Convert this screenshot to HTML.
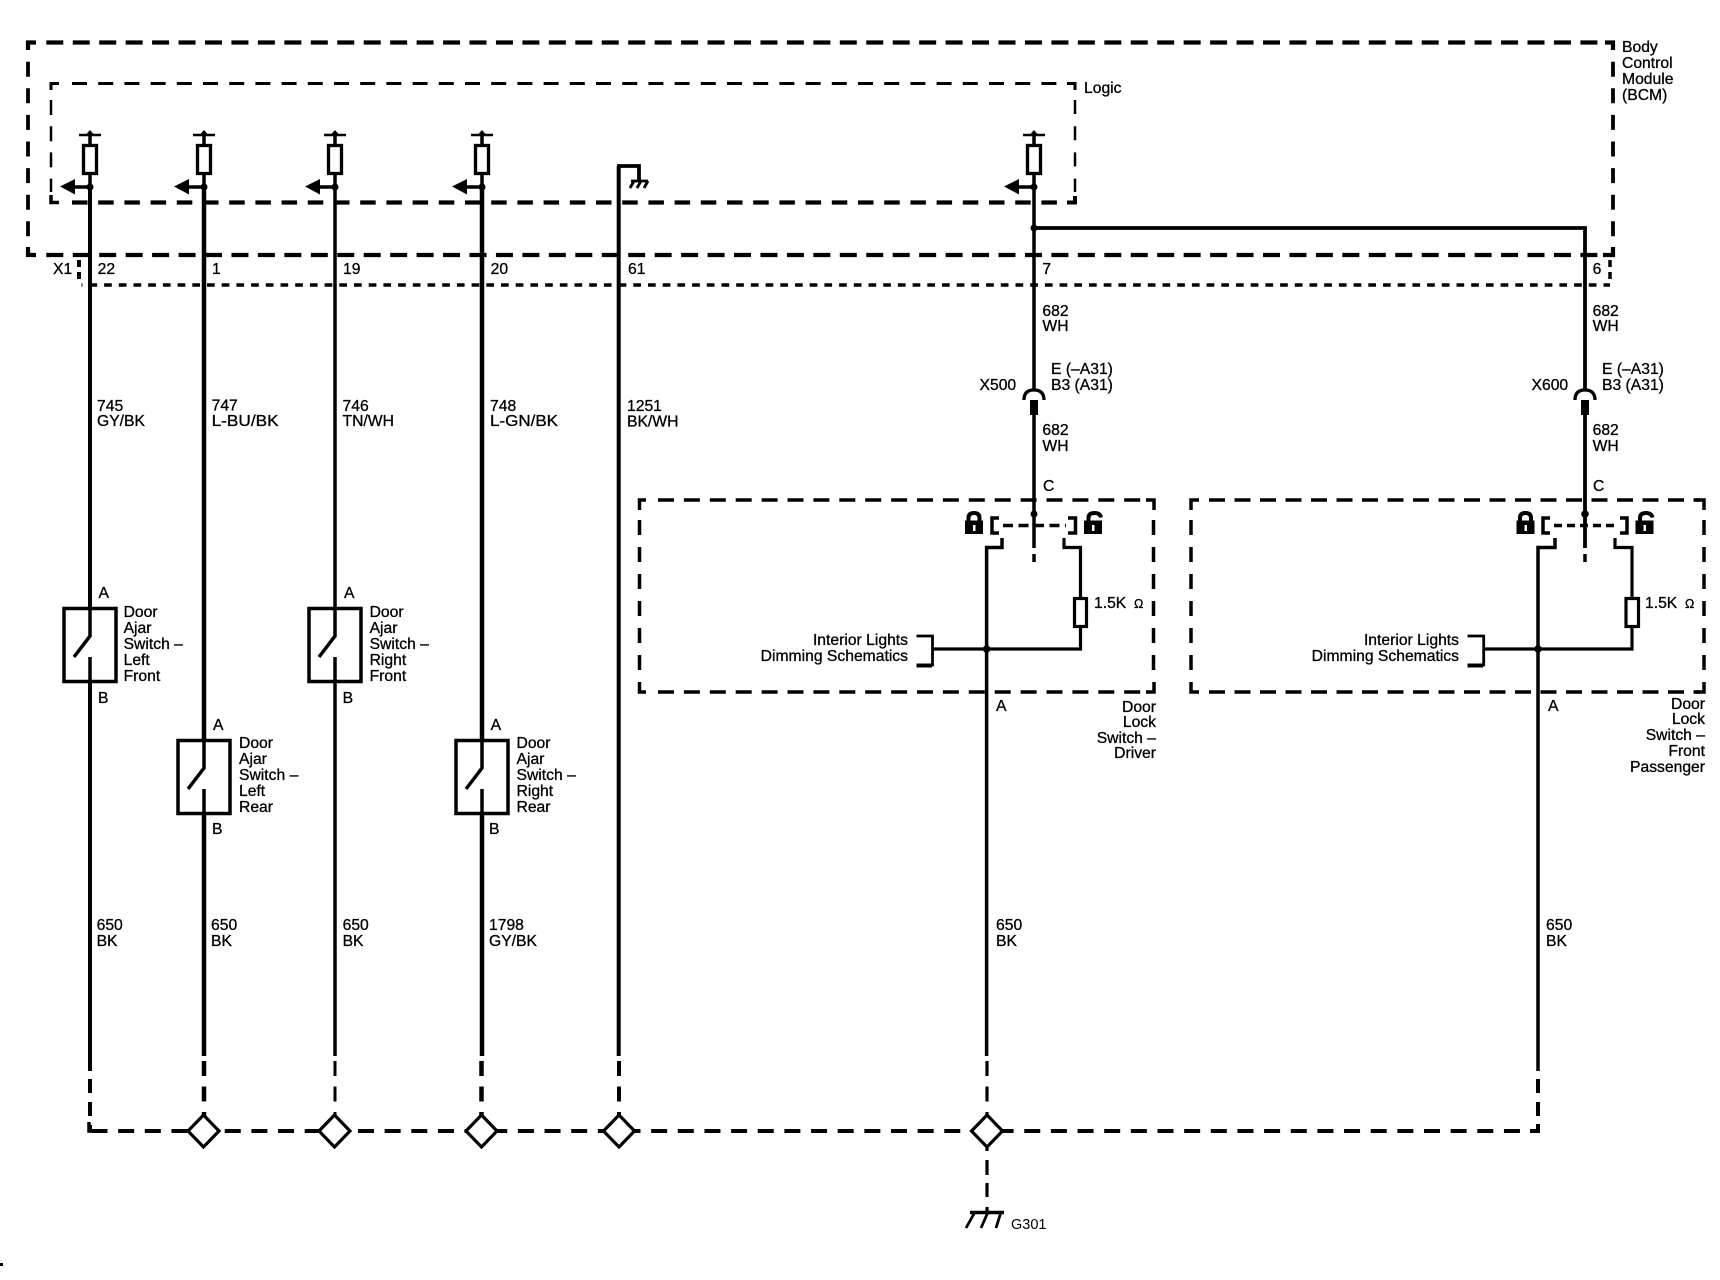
<!DOCTYPE html>
<html><head><meta charset="utf-8"><style>
html,body{margin:0;padding:0;background:#fff}
svg{display:block}
text{font-family:"Liberation Sans",sans-serif;font-size:15.7px;fill:#000;stroke:#000;stroke-width:.3}
.e{text-anchor:end}
.w{fill:none;stroke:#000}
</style></head><body>
<svg width="1720" height="1280" viewBox="0 0 1720 1280" xmlns="http://www.w3.org/2000/svg">
<defs>
<g id="fuse" class="w">
<path d="M-11 135H11" stroke-width="2.500" stroke="#000"/>
<path d="M0 130L3.500 134L0 138L-3.500 134Z" fill="#000" stroke="none"/>
<path d="M0 134V145M0 174V187" stroke-width="3.500" stroke="#000"/>
<rect x="-6.500" y="145.500" width="13" height="28" fill="#fff" stroke="#000" stroke-width="3.300"/>
<circle cx="0" cy="187" r="3.500" fill="#000" stroke="none"/>
<path d="M0 187H-16" stroke-width="3.500" stroke="#000"/>
<path d="M-30 186.500L-15 179V194.500Z" fill="#000" stroke="none"/>
</g>
<g id="sw" fill="none" stroke="#000">
<rect x="-26" y="-73.500" width="52" height="73" fill="#fff" stroke-width="3.500"/>
<path d="M0 -75V-46L-16 -25" stroke-width="3.500"/>
<path d="M0 -25V0" stroke-width="3.500"/>
</g>
<g id="conn" fill="none" stroke="#000">
<path d="M-10 400Q-10 390 0 390Q10 390 10 400" stroke-width="3.300"/>
<rect x="-4" y="400" width="8" height="15" fill="#000" stroke="none"/>
</g>
<g id="dia"><path d="M0 -16L15.500 0L0 16L-15.500 0Z" fill="#fff" stroke="#000" stroke-width="3.200"/></g>
<g id="lock">
<path d="M3.500 11V7Q3.500 2 9 2Q14.500 2 14.500 7V11" fill="none" stroke="#000" stroke-width="4"/>
<rect x="0" y="9.500" width="18" height="13.500" fill="#000"/>
<rect x="8" y="14" width="2.500" height="6" fill="#fff"/>
</g>
<g id="ulock">
<path d="M4.500 11V7Q4.500 2 10.500 2Q16 2 17 6.500" fill="none" stroke="#000" stroke-width="4"/>
<rect x="0" y="9.500" width="18" height="13.500" fill="#000"/>
<rect x="8" y="14" width="2.500" height="6" fill="#fff"/>
</g>
</defs>
<rect width="1720" height="1280" fill="#fff"/>
<rect x="0" y="1263" width="3" height="3" fill="#000"/>

<!-- BCM box -->
<g fill="none" stroke="#000">
<path d="M46.300 42.500H1607" stroke-width="4.200" stroke-dasharray="17 9.450"/>
<path d="M46.300 255H1600" stroke-width="4.200" stroke-dasharray="17 9.450"/>
<path d="M36 42.500H28V50" stroke-width="4.200"/>
<path d="M28 247V255H36" stroke-width="4.200"/>
<path d="M28 61.700V240" stroke-width="3.800" stroke-dasharray="15 11.600"/>
<path d="M1613 61.700V245" stroke-width="3.800" stroke-dasharray="15 11.600"/>
<path d="M1605 42.500H1613V50" stroke-width="4.200"/>
<path d="M1603 255H1613V247" stroke-width="4.200"/>
<!-- Logic box -->
<path d="M72 83.500H1066" stroke-width="3" stroke-dasharray="15 11.200"/>
<path d="M59 83.500H51V90" stroke-width="3"/>
<path d="M1067 83.500H1075V90" stroke-width="3"/>
<path d="M72 202.500H1060" stroke-width="4.200" stroke-dasharray="15.500 10.700"/>
<path d="M51 195V202.500H59" stroke-width="3.500"/>
<path d="M1067 202.500H1075V196" stroke-width="4"/>
<path d="M51 100V192" stroke-width="2.500" stroke-dasharray="15 11.200"/>
<path d="M1075 100V192" stroke-width="2.500" stroke-dasharray="14 12.200"/>
<!-- X1 connector line -->
<path d="M81.500 285H1610" stroke-width="3.500" stroke-dasharray="7.700 7" stroke-dashoffset="6.800"/>
<path d="M79 260V267M79 272V279" stroke-width="4"/>
<path d="M1610 260V267M1610 272V279" stroke-width="3.500"/>

<!-- wires, solid -->
<path d="M90 187V607M90 682V1071" stroke-width="4"/>
<path d="M204 187V739M204 814V1056" stroke-width="4.500"/>
<path d="M335 187V607M335 682V1056" stroke-width="3.500"/>
<path d="M482 187V739M482 814V1056" stroke-width="4.500"/>
<path d="M618.700 1056V166" stroke-width="4"/>
<path d="M617 166H639V180" stroke-width="3.800"/>
<path d="M631 181H648" stroke-width="2.800"/>
<path d="M634 181L630 188M641 181L637 188M648 181L644 188" stroke-width="2.800"/>
<path d="M1034 187V391M1034 415V548" stroke-width="3.500"/>
<path d="M1034 228H1585V391M1585 415V548" stroke-width="3.800"/>
<path d="M1034 554V562M1585 554V562" stroke-width="3.500"/>
<!-- dashed wire ends -->
<path d="M90 1079V1131" stroke-width="4" stroke-dasharray="14 9"/>
<path d="M204 1061V1118" stroke-width="4.500" stroke-dasharray="15 10.500"/>
<path d="M335 1061V1118" stroke-width="3" stroke-dasharray="15 10.500"/>
<path d="M481.500 1061V1118" stroke-width="4.500" stroke-dasharray="15 10.500"/>
<path d="M619 1061V1118" stroke-width="4" stroke-dasharray="15 10.500"/>
<path d="M987 1061V1118" stroke-width="3.200" stroke-dasharray="15 10.500"/>
<path d="M1538 1079V1131" stroke-width="4" stroke-dasharray="14 9"/>
<path d="M987 1147V1151M987 1160V1175M987 1183V1197M987 1207V1212" stroke-width="3.200"/>
<!-- bottom bus -->
<path d="M90 1131H1538" stroke-width="4" stroke-dasharray="16 10.650" stroke-dashoffset="25.150"/>
<path d="M89 1122V1131H97" stroke-width="3.500"/>
<path d="M1530 1131H1538V1124" stroke-width="4"/>
<!-- ground -->
<path d="M970 1212.500H1004" stroke-width="3.500"/>
<path d="M975 1212L966 1228M988 1212L981 1228M1001 1212L996 1228" stroke-width="2.800"/>

<!-- Door lock switch, driver -->
<path d="M658 500H1150" stroke-width="3.500" stroke-dasharray="16 9.900"/>
<path d="M658 692H1150" stroke-width="3.500" stroke-dasharray="16 9.900"/>
<path d="M646 500H639.500V510" stroke-width="3.500"/>
<path d="M639.500 682V692H646" stroke-width="3.500"/>
<path d="M1146 500H1154V510" stroke-width="3.500"/>
<path d="M1146 692H1154V682" stroke-width="3.500"/>
<path d="M639.500 520V672" stroke-width="3.500" stroke-dasharray="15 12"/>
<path d="M1153.500 520V672" stroke-width="3.500" stroke-dasharray="15 12"/>
<path d="M999 518H992V533H999" stroke-width="3.500"/>
<path d="M1068 518H1075.500V533H1068" stroke-width="3.500"/>
<path d="M1003 525.500H1066" stroke-width="3.500" stroke-dasharray="10 5.500"/>
<path d="M1002 538V547.500H986.600V1056" stroke-width="3.500"/>
<path d="M1064 538V547.500H1080.500V597M1080.500 627V649H932.500" stroke-width="3.200"/>
<rect x="1074.500" y="598.500" width="12" height="28" fill="#fff" stroke-width="3.200"/>
<path d="M916.500 636H932.500V665H916.500" stroke-width="2.800"/>
<path d="M916.500 665.500H932" stroke-width="4"/>

<!-- Door lock switch, passenger -->
<path d="M1209 500H1700" stroke-width="3.500" stroke-dasharray="16 9.500"/>
<path d="M1209 692H1700" stroke-width="3.500" stroke-dasharray="16 9.500"/>
<path d="M1199 500H1191V510" stroke-width="3.500"/>
<path d="M1191 682V692H1199" stroke-width="3.500"/>
<path d="M1696 500H1704V510" stroke-width="3.500"/>
<path d="M1696 692H1704V682" stroke-width="3.500"/>
<path d="M1191 520V672" stroke-width="3.500" stroke-dasharray="15 12"/>
<path d="M1704 520V672" stroke-width="3.500" stroke-dasharray="15 12"/>
<path d="M1550 518H1543V533H1550" stroke-width="3.500"/>
<path d="M1620 518H1627V533H1620" stroke-width="3.500"/>
<path d="M1554 525.500H1618" stroke-width="3.500" stroke-dasharray="8 5"/>
<path d="M1555 538V547.500H1538V1071" stroke-width="3.500"/>
<path d="M1615 538V547.500H1632V597M1632 627V649H1483.700" stroke-width="3.200"/>
<rect x="1626" y="598.500" width="12.500" height="28" fill="#fff" stroke-width="3.200"/>
<path d="M1467.500 636H1483.700V665H1467.500" stroke-width="2.800"/>
<path d="M1467.500 665.500H1483" stroke-width="4"/>
</g>
<circle cx="1034" cy="228" r="3.500"/>
<circle cx="1034" cy="514" r="3.500"/>
<circle cx="1585" cy="514" r="3.800"/>
<circle cx="986.600" cy="649" r="3.800"/>
<circle cx="1538" cy="649" r="3.800"/>

<use href="#lock" x="965" y="511"/>
<use href="#ulock" x="1084" y="511"/>
<use href="#lock" x="1516.500" y="511"/>
<use href="#ulock" x="1635.500" y="511"/>

<use href="#fuse" x="90"/>
<use href="#fuse" x="204"/>
<use href="#fuse" x="335"/>
<use href="#fuse" x="482"/>
<use href="#fuse" x="1034"/>

<use href="#conn" x="1034"/>
<use href="#conn" x="1585"/>

<use href="#sw" x="90" y="682"/>
<use href="#sw" x="204" y="814"/>
<use href="#sw" x="335" y="682"/>
<use href="#sw" x="482" y="814"/>

<use href="#dia" x="203.500" y="1131"/>
<use href="#dia" x="334.500" y="1131"/>
<use href="#dia" x="481.500" y="1131"/>
<use href="#dia" x="619" y="1131"/>
<use href="#dia" x="987" y="1131"/>

<!-- labels -->
<text x="1622" y="52">Body</text><text x="1622" y="68">Control</text><text x="1622" y="84">Module</text><text x="1622" y="100">(BCM)</text>
<text x="1084" y="93">Logic</text>
<text x="53" y="274">X1</text>
<text x="97.600" y="274">22</text><text x="212" y="274">1</text><text x="343" y="274">19</text><text x="490.600" y="274">20</text><text x="628" y="274">61</text><text x="1042.400" y="274">7</text><text x="1592.600" y="274">6</text>

<text x="97" y="411">745</text><text x="97" y="426">GY/BK</text>
<text x="211.600" y="410.500">747</text><text x="211.600" y="426" textLength="67" lengthAdjust="spacingAndGlyphs">L-BU/BK</text>
<text x="342.500" y="411">746</text><text x="342.500" y="426">TN/WH</text>
<text x="490" y="411">748</text><text x="490" y="426" textLength="68" lengthAdjust="spacingAndGlyphs">L-GN/BK</text>
<text x="627" y="411">1251</text><text x="627" y="426.500">BK/WH</text>

<text x="1042.400" y="316">682</text><text x="1042.400" y="331">WH</text>
<text x="1592.600" y="316">682</text><text x="1592.600" y="331">WH</text>
<text x="1051" y="374">E (–A31)</text><text x="1051" y="390">B3 (A31)</text>
<text x="1602" y="374">E (–A31)</text><text x="1602" y="390">B3 (A31)</text>
<text x="979.500" y="390">X500</text><text x="1531.500" y="390">X600</text>
<text x="1042.400" y="435">682</text><text x="1042.400" y="451">WH</text>
<text x="1592.600" y="435">682</text><text x="1592.600" y="451">WH</text>
<text x="1043" y="491">C</text><text x="1593" y="491">C</text>

<text x="98.500" y="598">A</text><text x="98" y="703">B</text>
<text x="213" y="730">A</text><text x="212" y="834">B</text>
<text x="344" y="598">A</text><text x="342.600" y="703">B</text>
<text x="490.600" y="730">A</text><text x="489" y="834">B</text>

<text x="123.600" y="617">Door</text><text x="123.600" y="633">Ajar</text><text x="123.600" y="649">Switch –</text><text x="123.600" y="665">Left</text><text x="123.600" y="681">Front</text>
<text x="239" y="748">Door</text><text x="239" y="764">Ajar</text><text x="239" y="780">Switch –</text><text x="239" y="796">Left</text><text x="239" y="812">Rear</text>
<text x="369.600" y="617">Door</text><text x="369.600" y="633">Ajar</text><text x="369.600" y="649">Switch –</text><text x="369.600" y="665">Right</text><text x="369.600" y="681">Front</text>
<text x="516.500" y="748">Door</text><text x="516.500" y="764">Ajar</text><text x="516.500" y="780">Switch –</text><text x="516.500" y="796">Right</text><text x="516.500" y="812">Rear</text>

<text x="96.600" y="930">650</text><text x="96.600" y="946">BK</text>
<text x="211" y="930">650</text><text x="211" y="946">BK</text>
<text x="342.600" y="930">650</text><text x="342.600" y="946">BK</text>
<text x="489" y="930">1798</text><text x="489" y="946">GY/BK</text>
<text x="996" y="930">650</text><text x="996" y="946">BK</text>
<text x="1546" y="930">650</text><text x="1546" y="946">BK</text>

<text class="e" x="908" y="645">Interior Lights</text><text class="e" x="908" y="661">Dimming Schematics</text>
<text class="e" x="1459" y="645">Interior Lights</text><text class="e" x="1459" y="661">Dimming Schematics</text>
<text x="1094" y="608">1.5K</text><text x="1134" y="608" style="font-size:12.500px">Ω</text>
<text x="1645" y="608">1.5K</text><text x="1685" y="608" style="font-size:12.500px">Ω</text>
<text x="996" y="711">A</text><text x="1548" y="711">A</text>

<text class="e" x="1156" y="712">Door</text><text class="e" x="1156" y="727">Lock</text><text class="e" x="1156" y="743">Switch –</text><text class="e" x="1156" y="758">Driver</text>
<text class="e" x="1705" y="709">Door</text><text class="e" x="1705" y="724">Lock</text><text class="e" x="1705" y="740">Switch –</text><text class="e" x="1705" y="756">Front</text><text class="e" x="1705" y="772">Passenger</text>

<text x="1011" y="1229" style="font-size:14.500px;stroke-width:0">G301</text>
</svg>
</body></html>
